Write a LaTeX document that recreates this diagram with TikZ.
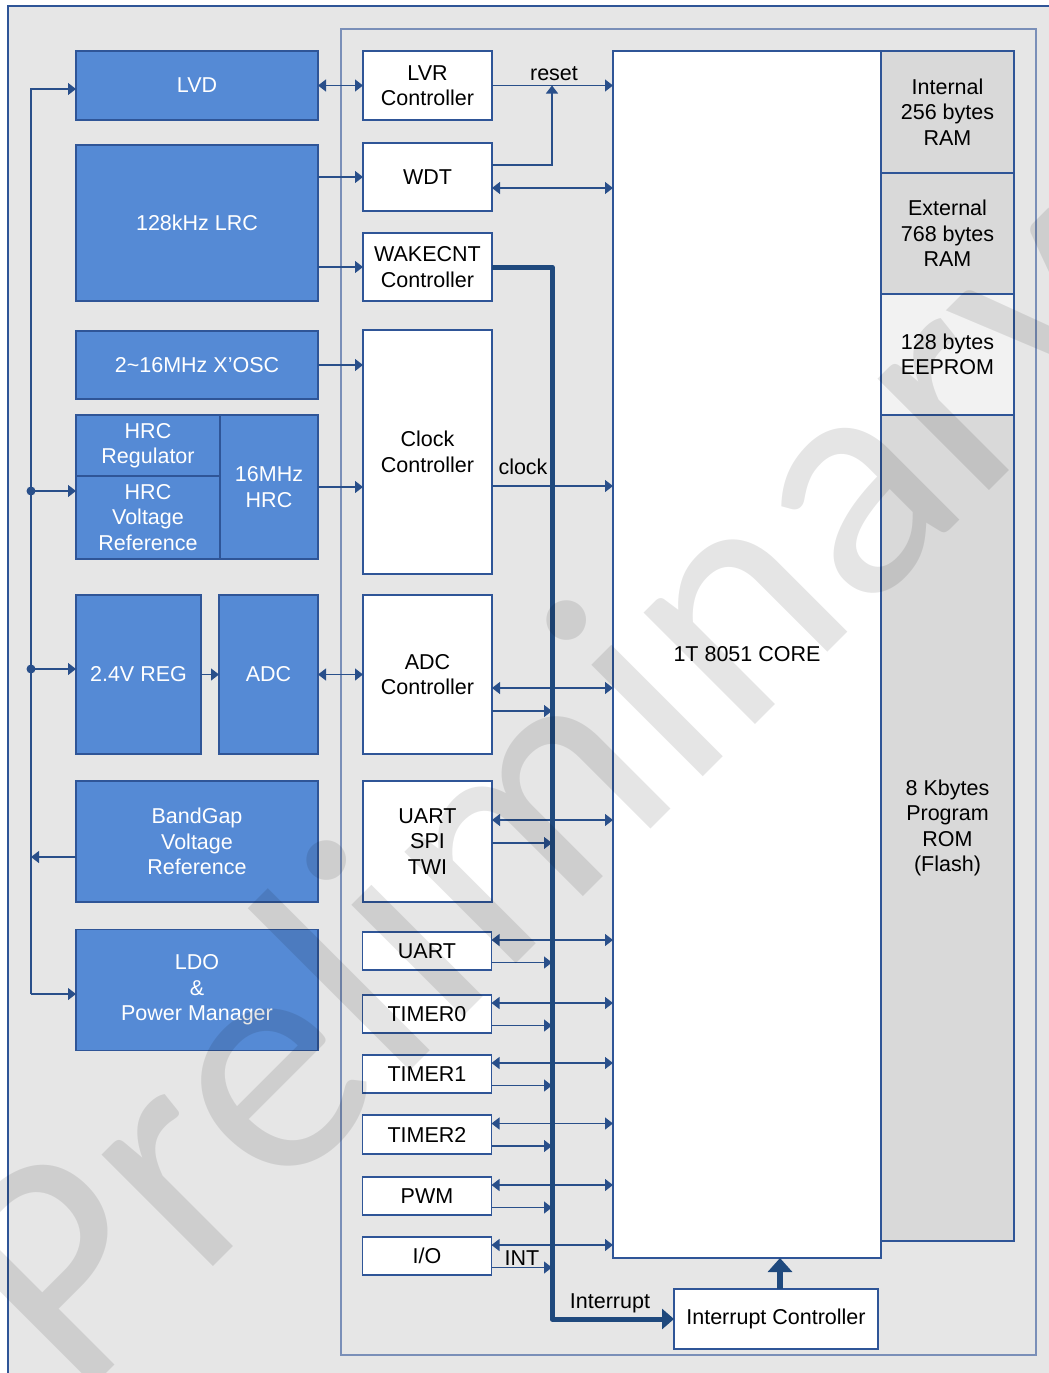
\documentclass[tikz,border=0pt]{standalone}
\usepackage{fontspec}
\setmainfont{Liberation Sans}
\newfontfamily\wmfont{Carlito}
\usetikzlibrary{arrows.meta,calc}
\definecolor{bgc}{RGB}{230,230,230}
\definecolor{bfill}{RGB}{85,138,213}
\definecolor{bdraw}{RGB}{47,85,151}
\definecolor{ln}{RGB}{41,79,138}
\definecolor{busc}{RGB}{31,73,125}
\definecolor{framec}{RGB}{122,143,184}
\definecolor{memc}{RGB}{217,217,217}
\definecolor{eepc}{RGB}{242,242,242}
\begin{document}
\begin{tikzpicture}[x=1pt,y=-1pt,
  txt/.style={font=\fontsize{21.5}{25.5}\selectfont, align=center},
  bbox/.style={txt, draw=bdraw, fill=bfill, line width=1.2pt, text=white, inner sep=0pt, outer sep=0pt},
  wbox/.style={txt, draw=bdraw, fill=white, line width=1.2pt, text=black, inner sep=0pt, outer sep=0pt},
  mbox/.style={wbox, fill=memc},
  arr/.style={draw=ln, line width=1.2pt, -{Triangle[length=8pt,width=12pt]}},
  barr/.style={draw=ln, line width=1.2pt, {Triangle[length=8pt,width=12pt]}-{Triangle[length=8pt,width=12pt]}},
  plain/.style={draw=ln, line width=1.2pt},
  lbl/.style={txt, text=black, inner sep=0pt},
  busline/.style={draw=busc, line width=5pt, line join=round, -{Triangle[length=12pt,width=20pt]}},
]
\useasboundingbox (0,0) rectangle (1049,1373);
\clip (0,0) rectangle (1049,1373);
\fill[white] (0,0) rectangle (1049,1373);
\draw[draw=bdraw, fill=bgc, line width=1.2pt] (8,6) rectangle (1080,1400);
\draw[draw=framec, line width=1.5pt] (341,29) rectangle (1036,1355);

% left blue blocks
\node[bbox, minimum width=242, minimum height=69] (lvd) at (197,85.5) {LVD};
\node[bbox, minimum width=242, minimum height=156] (lrc) at (197,223) {128kHz LRC};
\node[bbox, minimum width=242, minimum height=68] (xosc) at (197,365) {2\textasciitilde16MHz X'OSC};
\node[bbox, minimum width=144, minimum height=61] (hrcreg) at (148,445.5) {HRC\\Regulator};
\node[bbox, minimum width=144, minimum height=83] (hrcvr) at (148,517.5) {HRC\\Voltage\\Reference};
\node[bbox, minimum width=98, minimum height=144] (hrc) at (269,487) {16MHz\\HRC};
\node[bbox, minimum width=125, minimum height=159] (reg) at (138.5,674.5) {2.4V REG};
\node[bbox, minimum width=99, minimum height=159] (adc) at (268.5,674.5) {ADC};
\node[bbox, minimum width=242, minimum height=121] (bandgap) at (197,841.5) {BandGap\\Voltage\\Reference};
\node[bbox, minimum width=242, minimum height=121] (ldo) at (197,990) {LDO\\\&\\Power Manager};

% middle white blocks
\node[wbox, minimum width=129, minimum height=69] (lvr) at (427.5,85.5) {LVR\\Controller};
\node[wbox, minimum width=129, minimum height=68] (wdt) at (427.5,177) {WDT};
\node[wbox, minimum width=129, minimum height=68] (wake) at (427.5,267) {WAKECNT\\Controller};
\node[wbox, minimum width=129, minimum height=244] (clk) at (427.5,452) {Clock\\Controller};
\node[wbox, minimum width=129, minimum height=159] (adcc) at (427.5,674.5) {ADC\\Controller};
\node[wbox, minimum width=129, minimum height=121] (ust) at (427.5,841.5) {UART\\SPI\\TWI};
\node[wbox, minimum width=129, minimum height=38] (uart) at (427,951) {UART};
\node[wbox, minimum width=129, minimum height=38] (t0) at (427,1014) {TIMER0};
\node[wbox, minimum width=129, minimum height=38] (t1) at (427,1074) {TIMER1};
\node[wbox, minimum width=129, minimum height=39] (t2) at (427,1134.5) {TIMER2};
\node[wbox, minimum width=129, minimum height=38] (pwm) at (427,1196) {PWM};
\node[wbox, minimum width=129, minimum height=38] (io) at (427,1256) {I/O};

% core and memories
\node[wbox, minimum width=268, minimum height=1207] (core) at (747,654.5) {1T 8051 CORE};
\node[mbox, minimum width=133, minimum height=122] (iram) at (947.5,112) {Internal\\256 bytes\\RAM};
\node[mbox, minimum width=133, minimum height=121] (xram) at (947.5,233.5) {External\\768 bytes\\RAM};
\node[mbox, fill=eepc, minimum width=133, minimum height=121] (eep) at (947.5,354.5) {128 bytes\\EEPROM};
\node[mbox, minimum width=133, minimum height=826] (rom) at (947.5,828) {8 Kbytes\\Program\\ROM\\(Flash)};
\node[wbox, minimum width=204, minimum height=60] (intc) at (776,1319) {Interrupt Controller};

% coordinates
\coordinate (rj) at (552,85.5);
\coordinate (busA) at (552,267);
\coordinate (busB) at (552,1319);
\coordinate (railtop) at (31,89);
\coordinate (railbot) at (31,994);
\coordinate (dotA) at (31,491);
\coordinate (dotB) at (31,669);

% power rail
\draw[arr] (railbot) -- (railtop) -- (railtop -| lvd.west);
\draw[arr] (railbot) -- (railbot -| ldo.west);
\fill[ln] (dotA) circle (4.5);
\fill[ln] (dotB) circle (4.5);
\draw[arr] (dotA) -- (dotA -| hrcvr.west);
\draw[arr] (dotB) -- (dotB -| reg.west);
\draw[arr] ([yshift=-15.5pt]bandgap.west) coordinate (bgw) -- (bgw -| railtop);

% left-to-middle
\draw[barr] (lvd.east) -- (lvr.west);
\draw[arr] (wdt.west -| lrc.east) -- (wdt.west);
\draw[arr] (wake.west -| lrc.east) -- (wake.west);
\draw[arr] (xosc.east) -- (xosc.east -| clk.west);
\draw[arr] (hrc.east) -- (hrc.east -| clk.west);
\draw[arr] (reg.east) -- (adc.west);
\draw[barr] (adc.east) -- (adcc.west);

% middle-to-core
\draw[arr] (lvr.east) -- (lvr.east -| core.west);
\node[lbl] (resetl) at (554,74) {reset};
\draw[plain, -{Triangle[length=8pt,width=12pt]}] ([yshift=12pt]wdt.east) coordinate (wdtr) -| (rj);
\draw[barr] ([yshift=-11pt]wdt.east) coordinate (wdtb) -- (wdtb -| core.west);
\draw[arr] ([yshift=-34pt]clk.east) coordinate (clkr) -- (clkr -| core.west);
\node[lbl] (clockl) at (523,467) {clock};
\draw[barr] ([yshift=-13.5pt]adcc.east) coordinate (adca) -- (adca -| core.west);
\draw[arr] ([yshift=-36.5pt]adcc.east) coordinate (adcb) -- (adcb -| busA);
\draw[barr] ([yshift=21.5pt]ust.east) coordinate (usta) -- (usta -| core.west);
\draw[arr] ([yshift=-1.5pt]ust.east) coordinate (ustb) -- (ustb -| busA);
\foreach \n in {uart,t0,t1,t2,pwm,io} {
  \draw[barr] ([yshift=11pt]\n.east) coordinate (\n-a) -- (\n-a -| core.west);
  \draw[arr] ([yshift=-11.5pt]\n.east) coordinate (\n-b) -- (\n-b -| busA);
}
\node[lbl] (intl) at (522,1258) {INT};

% interrupt bus
\draw[busline] (wake.east) -- (busA) -- (busB) -- (intc.west);
\node[lbl] (irql) at (610,1303) {Interrupt};
\draw[draw=busc, line width=6pt, -{Triangle[length=14pt,width=24pt]}] ([xshift=4pt]intc.north) coordinate (ia) -- (ia |- core.south);

% watermark
\node[rotate=45, anchor=base, font=\wmfont\fontsize{330}{330}\selectfont, text=black, opacity=0.1, inner sep=0pt] (wm) at (620,860) {Preliminary};
\end{tikzpicture}
\end{document}
